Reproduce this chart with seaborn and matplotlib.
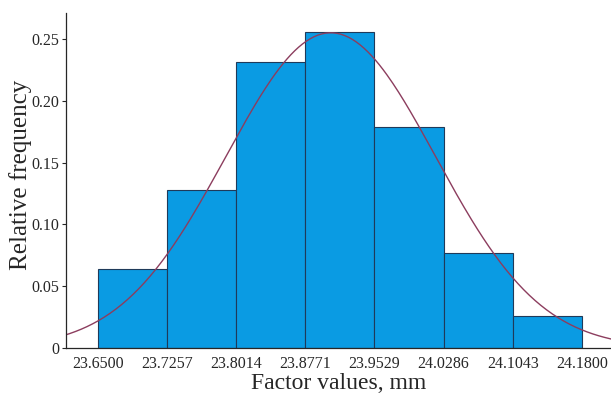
import numpy as np
import pandas as pd
import matplotlib.pyplot as plt
import seaborn as sns

# bin edges and relative frequencies
edges = [23.6500, 23.7257, 23.8014, 23.8771, 23.9529, 24.0286, 24.1043, 24.1800]
edge_labels = ["23.6500", "23.7257", "23.8014", "23.8771", "23.9529", "24.0286", "24.1043", "24.1800"]
rel_freq = [0.064, 0.128, 0.231, 0.256, 0.179, 0.077, 0.026]

# fitted normal curve parameters
fit_mean = 23.905
fit_std = 0.115
fit_peak = 0.255

y_ticks = [0, 0.05, 0.10, 0.15, 0.20, 0.25]
y_labels = ["0", "0.05", "0.10", "0.15", "0.20", "0.25"]

sns.set_style("ticks")
plt.rcParams["font.family"] = ["Liberation Serif", "DejaVu Serif"]

centers = [(a + b) / 2 for a, b in zip(edges[:-1], edges[1:])]
hist_df = pd.DataFrame({"value": centers, "freq": rel_freq})

fig = plt.figure(figsize=(6.11, 3.94), dpi=100)
ax = fig.add_axes([0.108, 0.117, 0.892, 0.85])

sns.histplot(
    data=hist_df,
    x="value",
    weights="freq",
    bins=edges,
    color="#0a9be3",
    alpha=1.0,
    edgecolor="#1f3a5a",
    linewidth=0.8,
    ax=ax,
)

xs = np.linspace(23.60, 24.23, 300)
curve_df = pd.DataFrame({"x": xs, "y": fit_peak * np.exp(-0.5 * ((xs - fit_mean) / fit_std) ** 2)})
sns.lineplot(data=curve_df, x="x", y="y", color="#8c3d5e", linewidth=1.0, ax=ax)

ax.set_xlim(23.615, 24.212)
ax.set_ylim(0, 0.271)
ax.set_xticks(edges)
ax.set_xticklabels(edge_labels, fontsize=11.5)
ax.set_yticks(y_ticks)
ax.set_yticklabels(y_labels, fontsize=11.5)
ax.tick_params(axis="x", length=0, pad=6)
ax.tick_params(axis="y", length=3, width=0.8, pad=1.5)
ax.set_xlabel("Factor values, mm", fontsize=17)
ax.set_ylabel("Relative frequency", fontsize=18)
ax.xaxis.set_label_coords(0.5, -0.075, transform=ax.transAxes)
ax.xaxis.label.set_va("top")
ax.yaxis.set_label_coords(-0.062, 0.516)
sns.despine(ax=ax)
for s in ["left", "bottom"]:
    ax.spines[s].set_linewidth(0.9)

fig.savefig("out.png", dpi=100)
